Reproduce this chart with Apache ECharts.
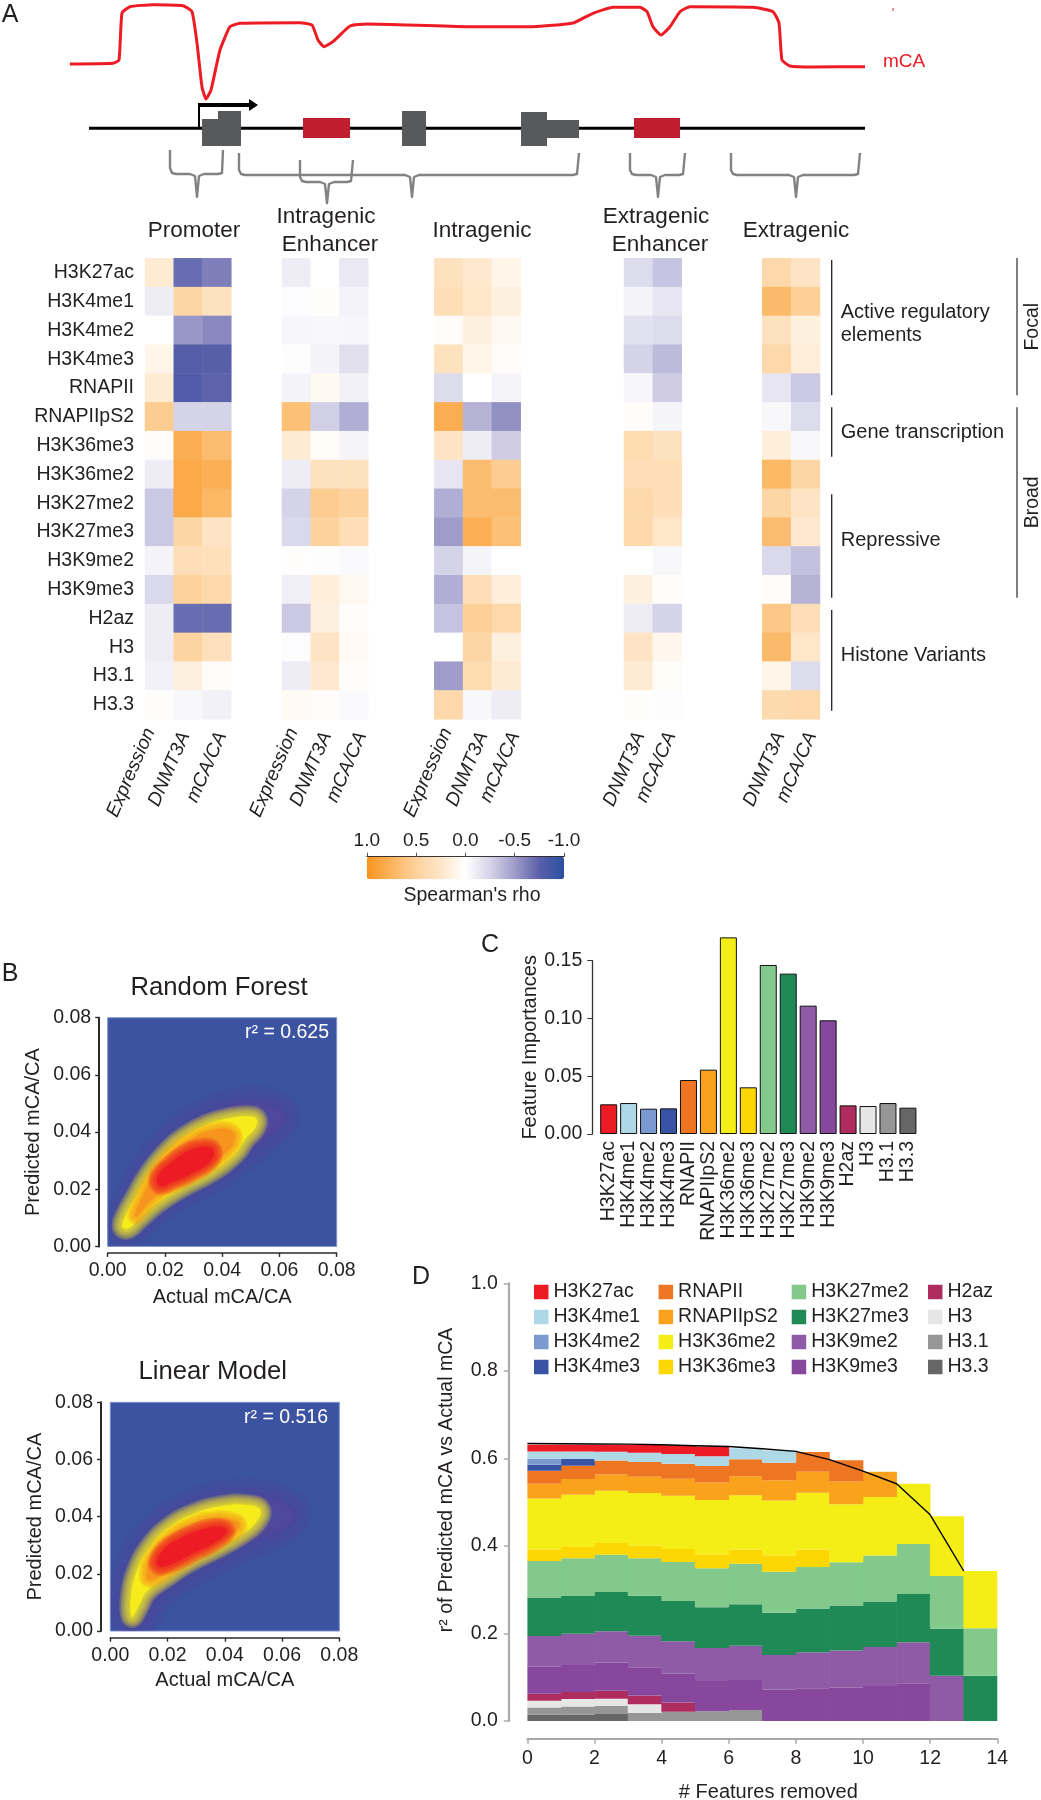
<!DOCTYPE html>
<html><head><meta charset="utf-8">
<style>html,body{margin:0;padding:0;background:#fff}#c{width:1041px;height:1800px}</style>
<script src="https://cdn.jsdelivr.net/npm/echarts@6/dist/echarts.min.js"></script>
</head><body><div id="c"></div>
<script>
// ---------- DATA ----------
const marks = ['H3K27ac','H3K4me1','H3K4me2','H3K4me3','RNAPII','RNAPIIpS2','H3K36me3','H3K36me2','H3K27me2','H3K27me3','H3K9me2','H3K9me3','H2az','H3','H3.1','H3.3'];
const features = ['H3K27ac','H3K4me1','H3K4me2','H3K4me3','RNAPII','RNAPIIpS2','H3K36me2','H3K36me3','H3K27me2','H3K27me3','H3K9me2','H3K9me3','H2az','H3','H3.1','H3.3'];
const colsThree = ['Expression','DNMT3A','mCA/CA'];
const colsTwo = ['DNMT3A','mCA/CA'];
const promoterRho = [[.2,-.7,-.62],[-.1,.45,.3],[0,-.52,-.58],[.1,-.78,-.76],[.2,-.8,-.74],[.55,-.25,-.25],[.03,.8,.68],[-.1,.83,.78],[-.3,.83,.72],[-.3,.45,.28],[-.07,.35,.33],[-.22,.5,.42],[-.1,-.7,-.7],[-.1,.48,.32],[-.08,.15,.03],[.02,-.04,-.08]];
const intraEnhRho = [[-.1,0,-.13],[-.02,.01,-.07],[-.05,-.04,-.05],[-.01,-.07,-.18],[-.07,.06,-.08],[.65,-.27,-.42],[.2,.04,-.06],[-.1,.3,.3],[-.25,.55,.5],[-.22,.5,.35],[.01,-.01,-.03],[-.09,.17,.07],[-.3,.15,.02],[-.02,.27,.05],[-.1,.22,.03],[.05,.02,-.03]];
const intragenicRho = [[.3,.22,.1],[.35,.25,.15],[.03,.15,.07],[.3,.1,.03],[-.2,0,-.06],[.8,-.4,-.55],[.27,-.1,-.28],[-.15,.68,.55],[-.42,.68,.68],[-.5,.78,.65],[-.25,-.06,0],[-.42,.35,.17],[-.32,.52,.42],[0,.45,.15],[-.5,.38,.2],[.42,-.04,-.1]];
const extraEnhRho = [[-.2,-.32],[-.07,-.15],[-.17,-.2],[-.25,-.36],[-.05,-.28],[.03,-.06],[.38,.3],[.35,.35],[.42,.35],[.42,.25],[0,-.04],[.15,.03],[-.1,-.25],[.28,.08],[.2,.04],[.01,-.01]];
const extragenicRho = [[.42,.28],[.7,.52],[.3,.15],[.42,.18],[-.15,-.3],[-.04,-.2],[.17,-.04],[.72,.45],[.45,.28],[.68,.22],[-.22,-.33],[.03,-.4],[.58,.35],[.7,.25],[.1,-.2],[.4,.42]];
const rhoStops = ['#2b50a2','#5a60a9','#9f9cca','#d5d3e8','#ffffff','#fee6c9','#fdd29c','#fbb45e','#f7941d'];

const mcaCurve = [[70,64],[113,63.3],[119,60],[122,13],[130,6.7],[153,4.7],[183,5.7],[192,11.7],[197,43],[202,87],[206,99],[211,90],[220,50],[230,26.7],[240,23.3],[300,22.7],[312,25],[318,40],[324,46.7],[333,41.7],[350,26],[367,24],[467,26.7],[533,26.7],[573,23],[593,13.3],[613,7.3],[640,7.3],[647,11.7],[653,26.7],[661,35],[670,26.7],[680,11.7],[690,6.7],[753,7.3],[773,11.7],[779,23],[782,60],[790,66],[813,67],[865,66.7]];
const geneLine = [[89,128.3],[865,128.3]];
const tssStem = [[199,128],[199,105]];
const tssRun = [[198,105],[251,105]];
const exons = [[202,119,220,146],[218,111,241,146],[402,111,426,146],[521,112,547,146],[547,120,579,138]];
const enhancers = [[303,118,350,138],[634,118,680,138]];
const brackets = [
 [[170,150],[170,168],[172,173],[176,174],[190,174],[195,176],[197,197],[199,176],[204,174],[218,174],[222,173],[223,150]],
 [[239,153],[239,170],[241,174],[245,175],[405,175],[410,177],[412,197],[414,177],[419,175],[573,175],[577,174],[579,153]],
 [[300,160],[300,177],[302,181],[306,182],[320,182],[325,184],[327,203],[329,184],[334,182],[347,182],[351,181],[353,160]],
 [[630,153],[630,170],[632,174],[636,175],[651,175],[656,177],[658,197],[660,177],[665,175],[679,175],[683,174],[685,153]],
 [[731,153],[731,170],[733,174],[737,175],[789,175],[794,177],[796,197],[798,177],[803,175],[854,175],[858,174],[860,153]]
];
const groupLines = [[[831.7,260],[831.7,395.3]],[[831.7,407.3],[831.7,456.7]],[[831.7,494.3],[831.7,597.7]],[[831.7,610],[831.7,710.7]]];
const classLines = [[[1017,258],[1017,395.3]],[[1017,407.3],[1017,597.7]]];

// density contours, milli-units of mCA/CA (actual, predicted)
const rfOlive = [[4.1,6.3],[4.9,10.4],[8.4,17.4],[13,26.1],[19.4,34.9],[27.6,42.4],[36.9,47.1],[46.2,49.7],[54.4,49.8],[60.2,47.7],[61.4,44.2],[57.9,40.1],[52.1,35.5],[45.7,30.8],[36.9,24.4],[26.4,19.1],[17.1,13.3],[11.3,8],[7.2,5.1]];
const rfYellow = [[5.2,6.9],[6.1,10.4],[9.5,16.8],[14.2,25],[20,32.3],[27,38.4],[35.2,42.8],[43.3,45],[49,45.5],[52,44.5],[51.5,41.5],[48,37.5],[44.5,32.5],[36.3,26.1],[26.4,20.9],[17.1,15],[10.7,9.4],[7.2,6.3]];
const rfOrange = [[9.5,11],[11.9,16.8],[16,25],[21.8,32.3],[28.8,37.4],[36.9,40.7],[42.7,40.7],[44.5,37.8],[41.6,33.1],[35.8,28.4],[28.2,23.8],[19.4,19.5],[13,13.9],[10.1,10.4]];
const rfRed = [[17.4,24.4],[21.8,29],[27.6,33.1],[33.4,34.9],[36.9,33.7],[35.8,29.6],[29.9,25.8],[22.9,22.6],[18.3,21.1]];
const lmOlive = [[7.5,.9],[5.1,7.3],[5.7,16.7],[9.2,26],[15.6,35.3],[24.4,41.7],[34.9,45.8],[45.4,47.2],[55.9,46.4],[62.9,42.9],[64,40],[60.5,35.9],[53.5,33],[44.2,28.9],[33.7,23.7],[23.2,17.8],[16.2,12],[11,3.8],[9.2,.9]];
const lmYellow = [[7.5,5],[7.2,12],[9.2,20.8],[13.9,29.5],[20.9,36.5],[30.2,41.4],[39.5,43.8],[47.7,44.1],[52.4,42.3],[50.6,37.7],[45.4,33.6],[37.2,28.9],[27.9,24.3],[19.7,19],[12.7,13.8],[9.8,8.5]];
const lmOrange = [[12.7,19],[14.5,26],[20.9,33],[27.9,37.1],[36,39.4],[44.2,38.3],[44.8,35.9],[39.5,31.8],[30.2,26.6],[22,21.9],[14.5,17.8]];
const lmRed = [[16.2,24.3],[19.1,28.9],[24.4,32.4],[31.4,35.3],[38.4,36.5],[40.7,34.8],[36,30.7],[29,27.2],[22,23.7],[17.4,22.5]];

const importances = [.0257,.0268,.0219,.0222,.0467,.0557,.1702,.0404,.1463,.1388,.1111,.0984,.0248,.0242,.0268,.0228];
const featureColors = ['#ed1c24','#aed8e6','#7b9ad0','#3953a4','#ee7622','#faa21b','#f4ed16','#fdd704','#82c98b','#1f8a55','#8f5ba6','#86479c','#ae2c5e','#e6e6e6','#969696','#666666'];

// panel D: top of each band in each of the 14 columns (null = feature already removed)
const n = null;
const topH33 = [.014,.0145,.016,n,n,n,n,n,n,n,n,n,n,n];
const topH31 = [.031,.033,.034,.019,.021,.022,.025,n,n,n,n,n,n,n];
const topH3 = [.046,.05,.051,.038,n,n,n,n,n,n,n,n,n,n];
const topH2az = [.0625,.066,.069,.058,.042,n,n,n,n,n,n,n,n,n];
const topK9me3 = [.124,.128,.133,.1226,.108,.0914,.0937,.0716,.0746,.0762,.08,.086,n,n];
const topK9me2 = [.194,.1995,.205,.195,.182,.167,.172,.151,.157,.161,.169,.18,.1036,n];
const topK27me3 = [.282,.287,.295,.286,.274,.26,.267,.2475,.257,.264,.273,.29,.211,.1036];
const topK27me2 = [.3656,.372,.38,.372,.363,.349,.359,.341,.352,.3625,.378,.4044,.331,.2117];
const topK36me3 = [.391,.3976,.4067,.4006,.393,.381,.392,.3786,.392,n,n,n,n,n];
const topK36me2 = [.5086,.517,.526,.521,.5147,.505,.516,.504,.5216,.495,.5117,.542,.468,.3427];
const topPS2 = [.542,.553,.563,.558,.5535,.545,.559,.55,.5695,.547,.5695,n,n,n];
const topRNAPII = [.572,.583,.5954,.5916,.588,.5825,.598,.59,.6145,.596,n,n,n,n];
const topK4me3 = [.5855,.5985,n,n,n,n,n,n,n,n,n,n,n,n];
const topK4me2 = [.599,n,n,n,n,n,n,n,n,n,n,n,n,n];
const topK4me1 = [.616,.616,.615,.613,.61,.6046,.623,.618,n,n,n,n,n,n];
const topK27ac = [.631,.631,.631,.6305,.63,.627,n,n,n,n,n,n,n,n];
const allFeaturesR2 = [[0,.634],[1,.6335],[2,.633],[3,.6325],[4,.631],[5,.629],[6,.627],[7,.622],[8,.616],[9,.597],[10,.571],[11,.542],[12,.471],[13,.3427]];
const removedTicks = [0,1,2,3,4,5,6,7,8,9,10,11,12,13];
const legendCols = [['H3K27ac','H3K4me1','H3K4me2','H3K4me3'],['RNAPII','RNAPIIpS2','H3K36me2','H3K36me3'],['H3K27me2','H3K27me3','H3K9me2','H3K9me3'],['H2az','H3','H3.1','H3.3']];

// ---------- LAYOUT ----------
const FF = '"Liberation Sans", Arial, sans-serif';
const INK = '#231f20';
const grids=[], xAxes=[], yAxes=[], series=[], graphic=[];
function addGrid(g,x,y){grids.push(Object.assign({containLabel:false,outerBoundsMode:'none'},g));const i=grids.length-1;
  xAxes.push(Object.assign({gridIndex:i},x));yAxes.push(Object.assign({gridIndex:i},y));return i;}
function text(t,x,y,size,opt={}){graphic.push({type:'text',x,y,rotation:opt.rot||0,silent:true,z:50,
  style:{text:t,fontFamily:FF,fontSize:size,fill:opt.fill||INK,align:opt.align||'center',verticalAlign:'middle',fontStyle:opt.italic?'italic':'normal'}});}
const hidden={show:false};

// page-wide schematic grid
const page = addGrid({left:0,top:0,width:1041,height:1800},
  {type:'value',min:0,max:1041,show:false},{type:'value',min:0,max:1800,inverse:true,show:false});
function pageLine(data,color,width,extra){series.push(Object.assign({type:'line',xAxisIndex:page,yAxisIndex:page,data,symbol:'none',silent:true,animation:false,z:5,
  lineStyle:{color,width,join:'round',cap:'butt'}},extra||{}));}
pageLine(mcaCurve,'#ed1c24',3,{smooth:.15});
pageLine([[893,8],[893,11]],'#ed1c24',1);
pageLine(geneLine,'#000',3);
pageLine(tssStem,'#000',2,{z:6});
pageLine(tssRun,'#000',4,{z:6});
brackets.forEach(b=>pageLine(b,'#828282',2.4));
groupLines.forEach(b=>pageLine(b,'#231f20',1.3));
classLines.forEach(b=>pageLine(b,'#555',1.5));
function rectSeries(list,color){series.push({type:'custom',xAxisIndex:page,yAxisIndex:page,silent:true,animation:false,z:7,clip:false,
  data:list,encode:{x:[0,2],y:[1,3]},
  renderItem(p,api){const a=api.coord([api.value(0),api.value(1)]),b=api.coord([api.value(2),api.value(3)]);
    return {type:'rect',shape:{x:a[0],y:a[1],width:b[0]-a[0],height:b[1]-a[1]},style:{fill:color}};}});}
rectSeries(exons,'#58595b');
rectSeries(enhancers,'#be1e2d');
series.push({type:'custom',xAxisIndex:page,yAxisIndex:page,silent:true,animation:false,z:7,clip:false,data:[[258,105]],encode:{x:0,y:1},
  renderItem(p,api){const c=api.coord([api.value(0),api.value(1)]);
    return {type:'polygon',shape:{points:[[c[0],c[1]],[c[0]-9,c[1]-6],[c[0]-9,c[1]+6]]},style:{fill:'#000'}};}});

// heatmaps
const heatSeries=[];
function heat(left,width,cols,rows,showY,labelEnds){
  const i=addGrid({left,width,top:258.3,height:461},
   {type:'category',data:cols,axisLine:hidden,axisTick:hidden,axisLabel:hidden},
   {type:'category',inverse:true,data:marks,axisLine:hidden,axisTick:hidden,
    axisLabel:{show:showY,interval:0,margin:11,fontFamily:FF,fontSize:19.5,color:INK}});
  const d=[];rows.forEach((r,y)=>r.forEach((v,x)=>d.push([x,y,v])));
  heatSeries.push(series.length);
  series.push({type:'heatmap',xAxisIndex:i,yAxisIndex:i,data:d,silent:true,animation:false,progressive:0});
  cols.forEach((c,k)=>text(c,labelEnds[k][0],labelEnds[k][1],19.2,{align:'right',italic:true,rot:66.5*Math.PI/180}));
}
heat(145,86.3,colsThree,promoterRho,true,[[150,729],[185,733],[221.7,733]]);
heat(282,86.3,colsThree,intraEnhRho,false,[[293,729],[326.7,733],[361.7,733]]);
heat(434.3,86.4,colsThree,intragenicRho,false,[[447,729],[483,733],[515,733]]);
heat(624,57.7,colsTwo,extraEnhRho,false,[[640,733],[671,733]]);
heat(762.3,57.7,colsTwo,extragenicRho,false,[[780,733],[811.7,733]]);

// colour bar axis
addGrid({left:366.8,width:197.2,top:856.7,height:22.6},
  {type:'value',min:-1,max:1,interval:.5,inverse:true,position:'top',
   axisLine:{show:true,onZero:false,lineStyle:{color:'#231f20',width:1}},axisTick:{show:true,length:4,lineStyle:{color:'#555'}},splitLine:hidden,
   axisLabel:{margin:6,fontFamily:FF,fontSize:19,color:INK,formatter:v=>v.toFixed(1),showMinLabel:true,showMaxLabel:true}},
  {type:'value',min:0,max:1,show:false});
series.push({type:'line',xAxisIndex:grids.length-1,yAxisIndex:grids.length-1,data:[],silent:true});

// density panels
function density(left,top,contours,yOff,xOff,nameGapX,nameGapY){
  const ax=(name,off,gap,w)=>({type:'value',min:0,max:80,interval:20,offset:off,name,nameLocation:'middle',nameGap:gap,
    nameTextStyle:{fontFamily:FF,fontSize:20,color:INK},axisLine:{onZero:false,show:true,lineStyle:{color:'#2a2a2a',width:w}},axisTick:{show:true,length:4,lineStyle:{color:'#2a2a2a',width:1.4}},
    splitLine:hidden,axisLabel:{margin:8,fontFamily:FF,fontSize:19.5,color:INK,formatter:v=>(v/1000).toFixed(2),showMinLabel:true,showMaxLabel:true}});
  const i=addGrid({left,top,width:229,height:228.7,show:true,backgroundColor:'#3b53a1',borderWidth:1,borderColor:'#8093cc'},
    ax('Actual mCA/CA',xOff,nameGapX,1.6),ax('Predicted mCA/CA',yOff,nameGapY,2));
  contours.forEach(c=>{
    series.push({type:'custom',xAxisIndex:i,yAxisIndex:i,silent:true,animation:false,clip:true,z:3,data:c.pts,encode:{x:0,y:1},
      renderItem(p,api){
        if(p.dataIndex!==0)return null;
        const pts=c.pts.map(q=>api.coord(q));
        const cs=p.coordSys;
        const kids=c.ramp.map(w=>({type:'polygon',shape:{points:pts,smooth:.45},style:{fill:'none',stroke:c.color,lineWidth:w,lineJoin:'round',opacity:c.alpha}}));
        kids.push({type:'polygon',shape:{points:pts,smooth:.45},style:{fill:c.color,opacity:c.fill}});
        return {type:'group',children:kids,clipPath:{type:'rect',shape:{x:cs.x,y:cs.y,width:cs.width,height:cs.height}}};
      }});
  });
}
const mk=(o,y,r,re)=>[
  {pts:o,color:'#56479b',ramp:[38,33,28,23,18,13,8,4],alpha:.09,fill:.6},
  {pts:y,color:'#f6ec1c',ramp:[22,19,16,13,10,7,4,2],alpha:.2,fill:1},
  {pts:r,color:'#f7941d',ramp:[16,13,10,7,4,2],alpha:.22,fill:1},
  {pts:re,color:'#ed1c24',ramp:[18,15,12,9,6,3],alpha:.22,fill:1}];
density(107.7,1017.7,mk(rfOlive,rfYellow,rfOrange,rfRed),8.5,6.5,35,56);
density(110.3,1402.3,mk(lmOlive,lmYellow,lmOrange,lmRed),9.3,6.7,33,56);

// panel C
const gC=addGrid({left:598.7,width:319.2,top:960.7,height:173.3},
  {type:'category',data:features,axisLine:hidden,axisTick:hidden,
   axisLabel:{rotate:90,interval:0,margin:7,fontFamily:FF,fontSize:19.5,color:INK}},
  {type:'value',min:0,max:.15,interval:.05,offset:6.4,name:'Feature Importances',nameLocation:'middle',nameGap:51,
   nameTextStyle:{fontFamily:FF,fontSize:20,color:INK},
   axisLine:{show:true,lineStyle:{color:'#333',width:1.3}},axisTick:{show:true,length:5,lineStyle:{color:'#333'}},splitLine:hidden,
   axisLabel:{margin:10,fontFamily:FF,fontSize:19.5,color:INK,formatter:v=>v.toFixed(2)}});
series.push({type:'bar',xAxisIndex:gC,yAxisIndex:gC,barWidth:17,clip:false,silent:true,animation:false,
  data:importances.map((v,k)=>({value:v,itemStyle:{color:featureColors[k],borderColor:'#111',borderWidth:1}}))});

// panel D
const gD=addGrid({left:527.4,width:469.9,top:1283.3,height:437.7},
  {type:'value',min:0,max:14,interval:2,offset:17.7,name:'# Features removed',nameLocation:'middle',nameGap:44,
   nameTextStyle:{fontFamily:FF,fontSize:20,color:INK,padding:[0,0,0,12]},
   axisLine:{show:true,onZero:false,lineStyle:{color:'#aaaaaa',width:2}},axisTick:{show:true,length:5,lineStyle:{color:'#aaaaaa',width:1.5}},splitLine:hidden,
   axisLabel:{margin:10,fontFamily:FF,fontSize:19.5,color:INK,showMinLabel:true,showMaxLabel:true}},
  {type:'value',min:0,max:1,interval:.2,offset:18.6,axisLine:{show:true,onZero:false,lineStyle:{color:'#aaaaaa',width:2.2}},
   axisTick:{show:true,length:5,lineStyle:{color:'#aaaaaa',width:1.5}},splitLine:hidden,
   axisLabel:{margin:11,fontFamily:FF,fontSize:19.5,color:INK,formatter:v=>v.toFixed(1)}});
xAxes.push({gridIndex:gD,type:'category',data:removedTicks,show:false});
const gDcat=xAxes.length-1;
const bands=[['H3.3',topH33],['H3.1',topH31],['H3',topH3],['H2az',topH2az],['H3K9me3',topK9me3],['H3K9me2',topK9me2],['H3K27me3',topK27me3],['H3K27me2',topK27me2],['H3K36me3',topK36me3],['H3K36me2',topK36me2],['RNAPIIpS2',topPS2],['RNAPII',topRNAPII],['H3K4me3',topK4me3],['H3K4me2',topK4me2],['H3K4me1',topK4me1],['H3K27ac',topK27ac]];
const cum=removedTicks.map(()=>0);
bands.forEach(([name,tops])=>{
  const h=tops.map((t,k)=>{if(t==null)return null;const d=t-cum[k];cum[k]=t;return +d.toFixed(4);});
  series.push({type:'bar',name,xAxisIndex:gDcat,yAxisIndex:gD,stack:'r2',barWidth:34.2,data:h,silent:true,animation:false,
    itemStyle:{color:featureColors[features.indexOf(name)]}});
});
series.push({type:'line',xAxisIndex:gD,yAxisIndex:gD,data:allFeaturesR2,symbol:'none',silent:true,animation:false,z:10,lineStyle:{color:'#000',width:1.4}});

const legendLefts=[534,658.6,791.7,928];
const legends=legendCols.map((c,i)=>({data:c.map(name=>({name,icon:'rect'})),orient:'vertical',left:legendLefts[i],top:1282,padding:0,
  itemWidth:14.5,itemHeight:14.5,itemGap:5,selectedMode:false,itemStyle:{borderWidth:0},textStyle:{fontFamily:FF,fontSize:19.5,color:INK}}));

// texts
[['A',10,15],['B',10,974],['C',490,945],['D',421,1277]].forEach(a=>text(a[0],a[1],a[2],25));
text('mCA',904,62,19,{fill:'#ed1c24'});
text('Promoter',194,231,22.5);text('Intragenic',326,217,22.5);text('Enhancer',330,245,22.5);
text('Intragenic',482,231,22.5);text('Extragenic',656,217,22.5);text('Enhancer',660,245,22.5);text('Extragenic',796,231,22.5);
text('Active regulatory',840.7,312,20,{align:'left'});text('elements',840.7,335,20,{align:'left'});
text('Gene transcription',840.7,432,20,{align:'left'});text('Repressive',840.7,540,20,{align:'left'});text('Histone Variants',840.7,655.5,20,{align:'left'});
text('Focal',1033,326.7,19.5,{rot:Math.PI/2});text('Broad',1033,502.3,19.5,{rot:Math.PI/2});
text("Spearman's rho",472,895.7,19.5);
text('Random Forest',219,987.5,25.7);text('Linear Model',212.7,1372,25.7);
text('r² = 0.625',329,1033,19.5,{fill:'#fff',align:'right'});text('r² = 0.516',328,1418,19.5,{fill:'#fff',align:'right'});
text('r² of Predicted mCA vs Actual mCA',447,1480,19.5,{rot:Math.PI/2});

const chart=echarts.init(document.getElementById('c'),null,{renderer:'canvas',width:1041,height:1800});
chart.setOption({animation:false,backgroundColor:'#fff',grid:grids,xAxis:xAxes,yAxis:yAxes,series,graphic,legend:legends,tooltip:{show:false},
  visualMap:[{type:'continuous',seriesIndex:heatSeries,min:-1,max:1,inverse:true,orient:'horizontal',left:366.8,top:856.7,padding:0,itemWidth:22.6,itemHeight:197.2,
    calculable:false,text:null,showLabel:false,hoverLink:false,inRange:{color:rhoStops},textStyle:{fontSize:0}}]});
</script></body></html>
